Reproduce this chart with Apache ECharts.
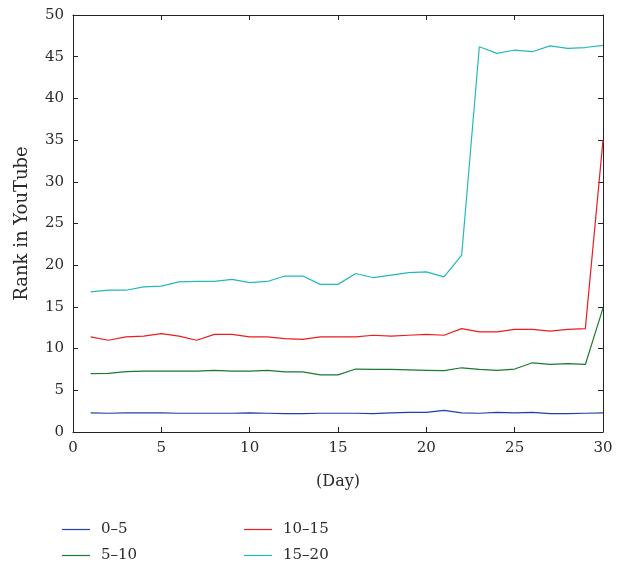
<!DOCTYPE html>
<html>
<head>
<meta charset="utf-8">
<script src="https://cdn.jsdelivr.net/npm/echarts@6/dist/echarts.min.js"></script>
<style>html,body{margin:0;padding:0;background:#fff}#c{width:624px;height:567px}</style>
</head>
<body>
<div id="c"></div>
<script>
const days = Array.from({length: 30}, (_, i) => i + 1);
const seriesNames = ['0–5', '5–10', '10–15', '15–20'];
const s0_5 = [2.3, 2.25, 2.3, 2.3, 2.3, 2.25, 2.25, 2.25, 2.25, 2.3, 2.25, 2.2, 2.2, 2.25, 2.25, 2.25, 2.2, 2.3, 2.35, 2.35, 2.6, 2.3, 2.25, 2.35, 2.3, 2.35, 2.2, 2.2, 2.25, 2.3];
const s5_10 = [7.0, 7.04, 7.24, 7.3, 7.3, 7.3, 7.3, 7.4, 7.3, 7.3, 7.4, 7.2, 7.2, 6.85, 6.85, 7.55, 7.5, 7.5, 7.45, 7.4, 7.35, 7.7, 7.5, 7.4, 7.55, 8.3, 8.1, 8.2, 8.1, 14.85];
const s10_15 = [11.4, 11.0, 11.4, 11.5, 11.8, 11.5, 11.0, 11.7, 11.7, 11.4, 11.4, 11.2, 11.1, 11.4, 11.4, 11.4, 11.6, 11.5, 11.6, 11.7, 11.6, 12.4, 12.0, 12.0, 12.3, 12.3, 12.1, 12.3, 12.4, 35.0];
const s15_20 = [16.8, 17.0, 17.0, 17.4, 17.5, 18.0, 18.05, 18.05, 18.3, 17.9, 18.05, 18.7, 18.7, 17.7, 17.7, 19.0, 18.5, 18.8, 19.1, 19.2, 18.6, 21.2, 46.2, 45.4, 45.8, 45.6, 46.3, 46.0, 46.1, 46.35];
const colors = ['#2340a0', '#1a7a30', '#ee1c1c', '#25b8b8'];
const allData = [s0_5, s5_10, s10_15, s15_20];

const font = 'DejaVu Serif';
const txt = '#2a2a2a';
const mkLine = () => ({show: true, onZero: false, lineStyle: {color: '#222', width: 1}});
const mkTick = () => ({show: true, inside: true, length: 5, lineStyle: {color: '#222'}});
const legendText = {fontSize: 15, fontFamily: font, color: txt, padding: [0, 0, 0, 6]};
const icon = 'path://M0,5 L28,5 L28,6.2 L0,6.2 Z';

const chart = echarts.init(document.getElementById('c'));
chart.setOption({
  animation: false,
  textStyle: {fontFamily: font},
  grid: {left: 73, right: 21, top: 15, bottom: 135},
  xAxis: [
    {type: 'value', min: 0, max: 30, interval: 5, position: 'bottom',
     axisLine: mkLine(), axisTick: mkTick(), splitLine: {show: false},
     axisLabel: {color: txt, fontSize: 15, fontFamily: font, margin: 9},
     name: '(Day)', nameLocation: 'middle', nameGap: 42,
     nameTextStyle: {color: txt, fontSize: 16, fontFamily: font}},
    {type: 'value', min: 0, max: 30, interval: 5, position: 'top',
     axisLine: mkLine(), axisTick: mkTick(), splitLine: {show: false}, axisLabel: {show: false}}
  ],
  yAxis: [
    {type: 'value', min: 0, max: 50, interval: 5, position: 'left',
     axisLine: mkLine(), axisTick: mkTick(), splitLine: {show: false},
     axisLabel: {color: txt, fontSize: 15, fontFamily: font, margin: 9},
     name: 'Rank in YouTube', nameLocation: 'middle', nameGap: 42,
     nameTextStyle: {color: txt, fontSize: 18, fontFamily: font}},
    {type: 'value', min: 0, max: 50, interval: 5, position: 'right',
     axisLine: mkLine(), axisTick: mkTick(), splitLine: {show: false}, axisLabel: {show: false}}
  ],
  legend: [
    {data: [seriesNames[0], seriesNames[1]], orient: 'vertical', left: 62, top: 522, height: 80,
     padding: 0, itemWidth: 28, itemHeight: 16, itemGap: 11, icon,
     textStyle: legendText},
    {data: [seriesNames[2], seriesNames[3]], orient: 'vertical', left: 244, top: 522, height: 80,
     padding: 0, itemWidth: 28, itemHeight: 16, itemGap: 11, icon,
     textStyle: legendText}
  ],
  series: seriesNames.map((n, k) => ({
    name: n, type: 'line', xAxisIndex: 0, yAxisIndex: 0,
    data: days.map((d, i) => [d, allData[k][i]]),
    symbol: 'none', color: colors[k],
    lineStyle: {color: colors[k], width: 1.2}
  }))
});
</script>
</body>
</html>
